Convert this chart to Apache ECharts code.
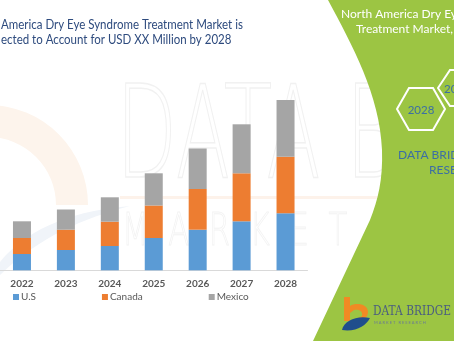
<!DOCTYPE html>
<html>
<head>
<meta charset="utf-8">
<script src="https://cdn.jsdelivr.net/npm/echarts@6/dist/echarts.min.js"></script>
<style>
  html, body { margin: 0; padding: 0; background: #ffffff; }
  #chart { width: 454px; height: 341px; }
</style>
</head>
<body>
<div id="chart"></div>
<script>
// Market size by country, stacked per year (USD million)
var years = ['2022', '2023', '2024', '2025', '2026', '2027', '2028'];
var usValues = [16.3, 20.3, 24.3, 32.3, 40.6, 49.0, 57.0];
var canadaValues = [16.0, 20.3, 24.3, 32.5, 40.7, 48.0, 56.6];
var mexicoValues = [16.7, 20.2, 24.4, 32.2, 40.5, 49.0, 56.7];
var seriesNames = ['U.S', 'Canada', 'Mexico'];
var seriesColors = ['#5B9BD5', '#ED7D31', '#A5A5A5'];

var titleLines = [
  'America Dry Eye Syndrome Treatment Market is',
  'ected to Account for USD XX Million by 2028'
];
var panelLines = ['North America Dry Eye', 'Treatment Market,'];
var hexLabels = ['2028', '20'];

// decorative outlines drawn from SVG path data
var shapePaths = {
  swoosh: 'M0,262 C30,225 80,210 130,206 C85,218 40,236 0,275 Z',
  panel: 'M328,0 C352,45 380,95 382,150 C383,180 378,200 370,220 L313,341 L454,341 L454,0 Z',
  logoB: 'M344,297 L350,297 L350,306 C356,302 368,304 368,312 C368,318 362,321 355,320 L362,316 C363,312 360,309 354,310 L350,313 L350,321 L344,321 Z',
  logoWave: 'M342,330 C344,320 358,315 370,318 C366,326 356,332 342,330 Z M349,327 C352,324 358,322 363,322 C360,326 355,328 349,327 Z'
};
Object.keys(shapePaths).forEach(function (key) {
  echarts.graphic.registerShape('deco_' + key, echarts.graphic.extendPath(shapePaths[key], {}));
});

var chart = echarts.init(document.getElementById('chart'), null, { renderer: 'canvas' });

function hexagon(cx, cy, w, h) {
  var hw = w / 2, hh = h / 2, q = w / 4;
  return [[cx - hw, cy], [cx - q, cy - hh], [cx + q, cy - hh], [cx + hw, cy], [cx + q, cy + hh], [cx - q, cy + hh]];
}

var font = 'Lato, "Open Sans", sans-serif';

var graphics = [
  // faint brand watermark behind the bars
  { type: 'sector', z: -10, silent: true,
    shape: { cx: -12, cy: 205, r: 100, r0: 68, startAngle: -Math.PI / 2, endAngle: 0 },
    style: { fill: '#fdf4ec' } },
  { type: 'deco_swoosh', z: -10, silent: true, shape: {},
    style: { fill: '#f0f4f9' } },
  { type: 'text', z: -10, silent: true, x: 116, y: 80, scaleX: 0.62,
    style: { text: 'DATA BRIDGE', font: '300 128px "DejaVu Sans", sans-serif', fill: 'none', stroke: '#f1f1f1', lineWidth: 1.5, textBaseline: 'top' } },
  { type: 'rect', z: -10, silent: true,
    shape: { x: 120, y: 196, width: 270, height: 3 },
    style: { fill: '#fdf2ea' } },
  { type: 'text', z: -10, silent: true, x: 122, y: 212, scaleX: 0.7,
    style: { text: 'M  A  R  K  E  T    R  E  S  E  A  R  C  H', font: '300 44px "DejaVu Sans", sans-serif', fill: 'none', stroke: '#f3f3f3', lineWidth: 1, textBaseline: 'top' } },

  // title
  { type: 'text', x: 1, y: 25, scaleX: 0.92,
    style: { text: titleLines[0], font: '12.5px ' + font, fill: '#2E4B7E', textVerticalAlign: 'middle' } },
  { type: 'text', x: 1, y: 40, scaleX: 0.92,
    style: { text: titleLines[1], font: '12.5px ' + font, fill: '#2E4B7E', textVerticalAlign: 'middle' } },

  // green side panel
  { type: 'deco_panel', z: 5, silent: true, shape: {},
    style: { fill: '#9CC543' } },
  { type: 'text', z: 6, x: 341, y: 14,
    style: { text: panelLines[0], font: '12px ' + font, fill: '#ffffff', textVerticalAlign: 'middle' } },
  { type: 'text', z: 6, x: 356, y: 29,
    style: { text: panelLines[1], font: '12px ' + font, fill: '#ffffff', textVerticalAlign: 'middle' } },
  { type: 'polygon', z: 6, shape: { points: hexagon(421, 109, 48, 42) },
    style: { fill: 'none', stroke: '#ffffff', lineWidth: 2 } },
  { type: 'text', z: 6, x: 421, y: 110,
    style: { text: hexLabels[0], font: '11.5px ' + font, fill: '#3C6FA3', textAlign: 'center', textVerticalAlign: 'middle' } },
  { type: 'polygon', z: 6, shape: { points: hexagon(462, 88, 48, 36) },
    style: { fill: 'none', stroke: '#ffffff', lineWidth: 2 } },
  { type: 'text', z: 6, x: 444, y: 89,
    style: { text: hexLabels[1], font: '11.5px ' + font, fill: '#3C6FA3', textVerticalAlign: 'middle' } },
  { type: 'text', z: 6, x: 398, y: 155,
    style: { text: 'DATA BRIDGE', font: '12px ' + font, fill: '#3C6FA3', textVerticalAlign: 'middle' } },
  { type: 'text', z: 6, x: 429, y: 170,
    style: { text: 'RESEARCH', font: '12px ' + font, fill: '#3C6FA3', textVerticalAlign: 'middle' } },

  // brand logo at the bottom
  { type: 'deco_logoB', z: 6, silent: true, shape: {},
    style: { fill: '#F08A24' } },
  { type: 'deco_logoWave', z: 6, silent: true, shape: {},
    style: { fill: '#1F4E8C' } },
  { type: 'text', z: 6, x: 373, y: 312, scaleX: 0.85,
    style: { text: 'DATA BRIDGE', font: '12.5px "DejaVu Serif", serif', fill: '#4A5D80', textVerticalAlign: 'middle' } },
  { type: 'text', z: 6, x: 374, y: 323,
    style: { text: 'M A R K E T   R E S E A R C H', font: '4px ' + font, fill: '#6A7A94', textVerticalAlign: 'middle' } }
];

var option = {
  backgroundColor: '#ffffff',
  animation: false,
  color: seriesColors,
  grid: { left: -10.4, right: 146.5, top: 70.3, bottom: 70.7, containLabel: false },
  legend: {
    left: 8, top: 287,
    itemWidth: 6, itemHeight: 6, itemGap: 66,
    icon: 'rect',
    textStyle: { fontFamily: font, fontSize: 10, color: '#595959', padding: [0, 0, 0, -3] },
    data: seriesNames
  },
  xAxis: {
    type: 'category',
    data: years,
    axisLine: { lineStyle: { color: '#D9D9D9', width: 1 } },
    axisTick: { show: false },
    axisLabel: { fontFamily: font, fontSize: 10, fontWeight: 'bold', color: '#595959', margin: 8 }
  },
  yAxis: { type: 'value', min: 0, max: 200, show: false, splitLine: { show: false } },
  series: [
    { name: seriesNames[0], type: 'bar', stack: 'total', barWidth: 18, data: usValues },
    { name: seriesNames[1], type: 'bar', stack: 'total', barWidth: 18, data: canadaValues },
    { name: seriesNames[2], type: 'bar', stack: 'total', barWidth: 18, data: mexicoValues }
  ],
  graphic: { elements: graphics }
};

chart.setOption(option);
</script>
</body>
</html>
